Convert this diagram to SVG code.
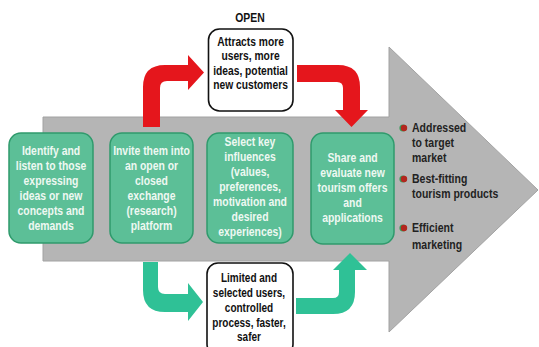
<svg xmlns="http://www.w3.org/2000/svg" width="539" height="347" viewBox="0 0 539 347">
<style>
.gbox{fill:#5cbf97;stroke:#2f9a6c;stroke-width:1.5}
.wbox{fill:#ffffff;stroke:#111;stroke-width:1.6}
.t{font-family:"Liberation Sans",Arial,sans-serif;font-weight:bold;font-size:13px;text-anchor:middle}
.g{font-family:"Liberation Sans",Arial,sans-serif;font-weight:bold;font-size:13.5px;text-anchor:middle;fill:#eef8f2}
.bt{fill:#111}
.bl{font-family:"Liberation Sans",Arial,sans-serif;font-weight:bold;font-size:12.5px;fill:#222}
.red{fill:#e5161c}
.grn{fill:#2fc196}
</style>
<rect width="539" height="347" fill="#ffffff"/>
<g id="big-arrow">
<path d="M43,117 L389,117 L389,47 L538,190 L389,332 L389,261 L43,261 Z" fill="#b5b5b5" stroke="#a2a2a2" stroke-width="1"/>
</g>
<g id="connectors">
<path class="red" d="M143,127 L143,87 Q143,65 165,65 L188,65 L188,55 L204,72.5 L188,90 L188,81 L167,81 Q160,81 160,88 L160,127 Z"/>
<path class="red" d="M297,65 L338,65 Q360,65 360,87 L360,110 L368,110 L351.5,127 L335,110 L343,110 L343,88 Q343,82 337,82 L297,82 Z"/>
<path class="grn" d="M143,262 L143,290 Q143,312 165,312 L188,312 L188,321 L203,302 L188,283 L188,294 L165,294 Q158,294 158,287 L158,262 Z"/>
<path class="grn" d="M296,298 L333,298 Q339,298 339,292 L339,270 L333,270 L350,253 L367,270 L355,270 L355,292 Q355,314 333,314 L296,314 Z"/>
</g>
<g id="open-label">
<g transform="translate(250,0) scale(0.8,1)"><text class="t bt" x="0" y="22.5">OPEN</text></g>
</g>
<g id="open-box">
<rect class="wbox" x="208.5" y="29" width="84.5" height="82" rx="11"/>
<g transform="translate(250.5,0) scale(0.79,1)">
<text class="t bt" x="0" y="46">Attracts more</text>
<text class="t bt" x="0" y="60.5">users, more</text>
<text class="t bt" x="0" y="75">ideas, potential</text>
<text class="t bt" x="0" y="89.5">new customers</text>
</g>
</g>
<g id="closed-box">
<rect class="wbox" x="207" y="263" width="86" height="92" rx="11"/>
<g transform="translate(249,0) scale(0.77,1)">
<text class="t bt" x="0" y="282">Limited and</text>
<text class="t bt" x="0" y="297">selected users,</text>
<text class="t bt" x="0" y="312">controlled</text>
<text class="t bt" x="0" y="327">process, faster,</text>
<text class="t bt" x="0" y="341">safer</text>
</g>
</g>
<g id="box1">
<rect class="gbox" x="9" y="133" width="84" height="110" rx="12"/>
<g transform="translate(51,0) scale(0.77,1)">
<text class="g" x="0" y="155.5">Identify and</text>
<text class="g" x="0" y="170.5">listen to those</text>
<text class="g" x="0" y="185.5">expressing</text>
<text class="g" x="0" y="200.5">ideas or new</text>
<text class="g" x="0" y="215.5">concepts and</text>
<text class="g" x="0" y="230.5">demands</text>
</g>
</g>
<g id="box2">
<rect class="gbox" x="110" y="133" width="83" height="110" rx="12"/>
<g transform="translate(151.5,0) scale(0.77,1)">
<text class="g" x="0" y="155.5">Invite them into</text>
<text class="g" x="0" y="170.5">an open or</text>
<text class="g" x="0" y="185.5">closed</text>
<text class="g" x="0" y="200.5">exchange</text>
<text class="g" x="0" y="215.5">(research)</text>
<text class="g" x="0" y="230.5">platform</text>
</g>
</g>
<g id="box3">
<rect class="gbox" x="207" y="133" width="86" height="110" rx="12"/>
<g transform="translate(250,0) scale(0.77,1)">
<text class="g" x="0" y="146.5">Select key</text>
<text class="g" x="0" y="161.5">influences</text>
<text class="g" x="0" y="176.5">(values,</text>
<text class="g" x="0" y="191.5">preferences,</text>
<text class="g" x="0" y="206.5">motivation and</text>
<text class="g" x="0" y="221.5">desired</text>
<text class="g" x="0" y="236">experiences)</text>
</g>
</g>
<g id="box4">
<rect class="gbox" x="311" y="133" width="83" height="111" rx="12"/>
<g transform="translate(352.5,0) scale(0.77,1)">
<text class="g" x="0" y="162">Share and</text>
<text class="g" x="0" y="177">evaluate new</text>
<text class="g" x="0" y="192">tourism offers</text>
<text class="g" x="0" y="207">and</text>
<text class="g" x="0" y="222">applications</text>
</g>
</g>
<g id="outcomes">
<circle cx="403" cy="128" r="3.6" fill="#3a9a5a"/>
<circle cx="404" cy="128" r="3.2" fill="#b3261e"/>
<circle cx="403" cy="179" r="3.6" fill="#3a9a5a"/>
<circle cx="404" cy="179" r="3.2" fill="#b3261e"/>
<circle cx="403" cy="228" r="3.6" fill="#3a9a5a"/>
<circle cx="404" cy="228" r="3.2" fill="#b3261e"/>
<g transform="translate(412,0) scale(0.84,1)">
<text class="bl" x="0" y="132">Addressed</text>
<text class="bl" x="0" y="147">to target</text>
<text class="bl" x="0" y="162">market</text>
<text class="bl" x="0" y="183">Best-fitting</text>
<text class="bl" x="0" y="198">tourism products</text>
<text class="bl" x="0" y="232">Efficient</text>
<text class="bl" x="0" y="249">marketing</text>
</g>
</g>
</svg>
